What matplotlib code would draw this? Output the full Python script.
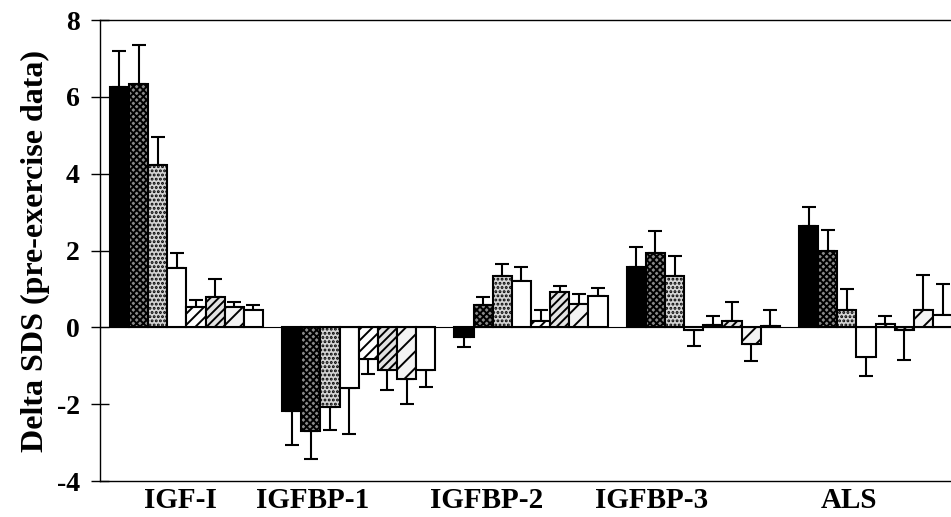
import numpy as np
import matplotlib
matplotlib.use("Agg")
import matplotlib.pyplot as plt

# Delta SDS values (8 bars per analyte) and one-sided error bars
groups = ['IGF-I', 'IGFBP-1', 'IGFBP-2', 'IGFBP-3', 'ALS']
igf1 = [6.25, 6.34, 4.22, 1.55, 0.54, 0.78, 0.52, 0.44]
igfbp1 = [-2.19, -2.71, -2.06, -1.59, -0.82, -1.11, -1.35, -1.11]
igfbp2 = [-0.26, 0.59, 1.35, 1.20, 0.17, 0.93, 0.62, 0.83]
igfbp3 = [1.56, 1.93, 1.34, -0.07, 0.06, 0.16, -0.42, 0.03]
als = [2.65, 2.00, 0.44, -0.76, 0.10, -0.07, 0.45, 0.32]

igf1_err = [0.95, 1.01, 0.73, 0.38, 0.16, 0.47, 0.14, 0.13]
igfbp1_err = [0.87, 0.72, 0.61, 1.19, 0.40, 0.52, 0.65, 0.45]
igfbp2_err = [0.24, 0.19, 0.29, 0.38, 0.28, 0.15, 0.24, 0.20]
igfbp3_err = [0.52, 0.57, 0.51, 0.41, 0.24, 0.51, 0.45, 0.42]
als_err = [0.49, 0.54, 0.56, 0.51, 0.20, 0.78, 0.91, 0.80]

values = [igf1, igfbp1, igfbp2, igfbp3, als]
errors = [igf1_err, igfbp1_err, igfbp2_err, igfbp3_err, als_err]

plt.rcParams['font.family'] = ['Liberation Serif', 'DejaVu Serif']
plt.rcParams['hatch.linewidth'] = 1.4

styles = [
    dict(color='black'),
    dict(color='#8a8a8a', hatch='xxxxx'),
    dict(color='#d4d4d4', hatch='....'),
    dict(color='white'),
    dict(color='white', hatch='///'),
    dict(color='#e2e2e2', hatch='////'),
    dict(color='#f3f3f3', hatch='//'),
    dict(color='white'),
]

fig = plt.figure(figsize=(9.51, 5.17), dpi=100)
ax = fig.add_axes([0.105, 0.0696, 0.895, 0.8915])

for g, (vals, errs) in enumerate(zip(values, errors)):
    for i, (v, e) in enumerate(zip(vals, errs)):
        x = g * 9 + i
        ax.bar(x, v, width=1.0, edgecolor='black', linewidth=1.5, zorder=2,
               **styles[i])
        yerr = [[0], [e]] if v >= 0 else [[e], [0]]
        ax.errorbar(x, v, yerr=yerr, fmt='none', ecolor='black',
                    elinewidth=1.5, capsize=5, capthick=1.5, zorder=1)

ax.axhline(0, color='black', linewidth=0.8, zorder=3)

ax.set_xlim(-1.02, 43.44)
ax.set_ylim(-4, 8)
ax.set_yticks([-4, -2, 0, 2, 4, 6, 8])
ax.set_yticklabels(['-4', '-2', '0', '2', '4', '6', '8'],
                   fontsize=20, fontweight='bold')

# group labels, placed where they sit in the original
label_x = [3.21, 10.11, 19.2, 27.82, 38.11]
ax.set_xticks(label_x)
ax.set_xticklabels(groups, fontsize=21, fontweight='bold')
ax.tick_params(axis='x', length=0, pad=4)
ax.tick_params(axis='y', direction='inout', length=13, width=1, pad=8)

ax.spines['right'].set_visible(False)
for s in ['left', 'top', 'bottom']:
    ax.spines[s].set_linewidth(1)

ax.set_ylabel('Delta SDS (pre-exercise data)', fontsize=23,
              fontweight='bold', labelpad=5)

fig.savefig('out.png', dpi=100)
